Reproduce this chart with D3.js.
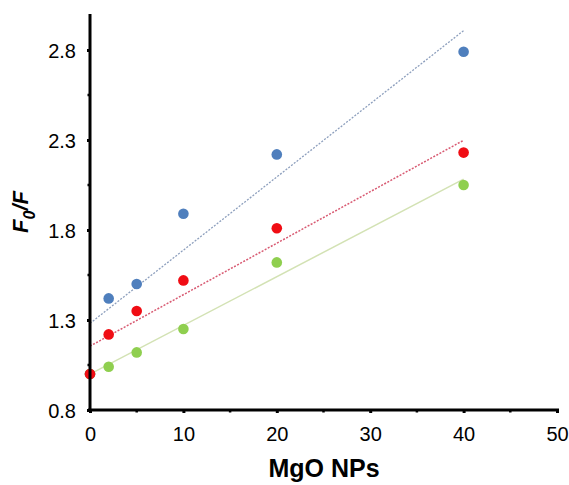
<!DOCTYPE html>
<html>
<head>
<meta charset="utf-8">
<script src="https://cdn.jsdelivr.net/npm/d3@7"></script>
<style>
  body { margin: 0; background: #fff; }
  text { font-family: "Liberation Sans", Arial, sans-serif; }
</style>
</head>
<body>
<script>
(function(){

    //data
    var xValues = [0, 2, 5, 10, 20, 40];
    var blueValues = [1.0, 1.42, 1.50, 1.89, 2.22, 2.79];
    var redValues = [1.0, 1.22, 1.35, 1.52, 1.81, 2.23];
    var greenValues = [1.0, 1.04, 1.12, 1.25, 1.62, 2.05];
    var xTicks = [0, 10, 20, 30, 40, 50];
    var yTicks = [0.8, 1.3, 1.8, 2.3, 2.8];

    var width = 569,
        height = 485;

    var svg = d3.select("body")
        .append("svg")
        .attr("width", width)
        .attr("height", height);

    var x = d3.scaleLinear().domain([0, 50]).range([90, 557]);
    var y = d3.scaleLinear().domain([0.8, 3.0]).range([410, 14]);

    //least squares trendline from x=0 to x=40
    function fit(ys){
        var mx = d3.mean(xValues), my = d3.mean(ys);
        var sxy = d3.sum(xValues, function(v, i){ return (v - mx) * (ys[i] - my); });
        var sxx = d3.sum(xValues, function(v){ return (v - mx) * (v - mx); });
        var b = sxy / sxx, a = my - b * mx;
        return [[0, a], [40, a + b * 40]];
    }

    var series = [
        {vals: blueValues, dot: "#4f7fbd", line: "#8d9fbd", dash: "2,1.5", w: 1.3},
        {vals: greenValues, dot: "#8fcf4f", line: "#d3e2b4", dash: null, w: 1.5},
        {vals: redValues, dot: "#f00d14", line: "#d85a72", dash: "2,1.5", w: 1.5}
    ];

    var line = d3.line()
        .x(function(d){ return x(d[0]); })
        .y(function(d){ return y(d[1]); });

    //trendlines
    series.forEach(function(s){
        svg.append("path")
            .datum(fit(s.vals))
            .attr("d", line)
            .attr("fill", "none")
            .attr("stroke", s.line)
            .attr("stroke-width", s.w)
            .attr("stroke-dasharray", s.dash);
    });

    //points
    series.forEach(function(s){
        svg.selectAll(null)
            .data(s.vals)
            .enter()
            .append("circle")
            .attr("cx", function(d, i){ return x(xValues[i]); })
            .attr("cy", function(d){ return y(d); })
            .attr("r", 5.3)
            .attr("fill", s.dot);
    });

    //axes
    var xAxis = svg.append("g")
        .attr("transform", "translate(0," + y(0.8) + ")")
        .call(d3.axisBottom(x).tickValues(xTicks).tickSize(3).tickPadding(14));
    xAxis.selectAll(".tick line").attr("stroke-width", 3);
    xAxis.select(".domain").remove();
    xAxis.append("line")
        .attr("x1", x(0) - 2).attr("x2", x(50) + 2)
        .attr("stroke", "#000").attr("stroke-width", 3);
    xAxis.selectAll(".tick text").attr("font-size", 20).attr("fill", "#000")
        .attr("font-family", "Liberation Sans, Arial, sans-serif");
    xAxis.selectAll(".minor")
        .data([5, 15, 25, 35, 45])
        .enter()
        .append("line")
        .attr("x1", function(d){ return x(d); }).attr("x2", function(d){ return x(d); })
        .attr("y1", 0).attr("y2", 2.5)
        .attr("stroke", "#000").attr("stroke-width", 2.5);

    var yAxis = svg.append("g")
        .attr("transform", "translate(" + x(0) + ",0)")
        .call(d3.axisLeft(y).tickValues(yTicks).tickFormat(d3.format(".1f")).tickSize(3).tickPadding(11));
    yAxis.selectAll(".tick line").attr("stroke-width", 3);
    yAxis.select(".domain").remove();
    yAxis.append("line")
        .attr("y1", y(3.0)).attr("y2", y(0.8) + 2)
        .attr("stroke", "#000").attr("stroke-width", 3);
    yAxis.selectAll(".tick text").attr("font-size", 20).attr("fill", "#000")
        .attr("dy", "0.38em")
        .attr("font-family", "Liberation Sans, Arial, sans-serif");
    yAxis.selectAll(".minor")
        .data([1.05, 1.55, 2.05, 2.55])
        .enter()
        .append("line")
        .attr("y1", function(d){ return y(d); }).attr("y2", function(d){ return y(d); })
        .attr("x1", 0).attr("x2", -2.5)
        .attr("stroke", "#000").attr("stroke-width", 2.5);

    //axis titles
    svg.append("text")
        .attr("x", 324)
        .attr("y", 477)
        .attr("text-anchor", "middle")
        .attr("font-size", 25)
        .attr("font-weight", "bold")
        .text("MgO NPs");

    var yl = svg.append("text")
        .attr("transform", "translate(28,212) rotate(-90)")
        .attr("text-anchor", "middle")
        .attr("font-size", 22)
        .attr("font-weight", "bold")
        .attr("font-style", "italic");
    yl.append("tspan").text("F");
    yl.append("tspan").attr("font-size", 16).attr("dy", 7).text("0");
    yl.append("tspan").attr("dy", -7).text("/F");

})();
</script>
</body>
</html>
